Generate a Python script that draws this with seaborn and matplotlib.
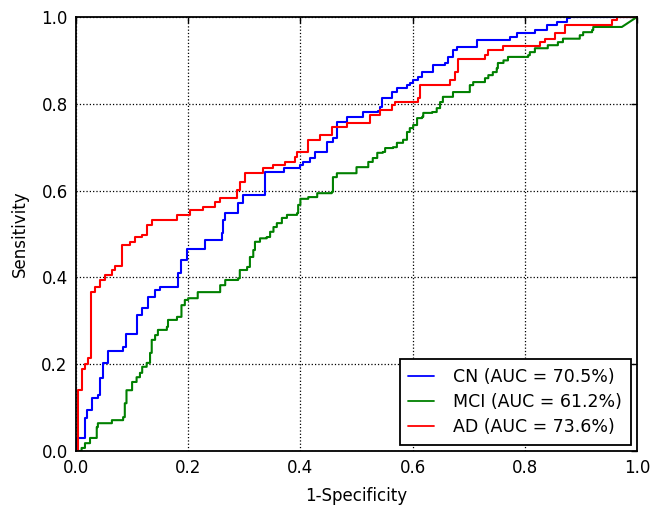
import pandas as pd
import seaborn as sns
from matplotlib import pyplot as plt

# ROC krivulje (1-specificity, sensitivity), ocitano sa slike
cn_fpr = [0, 0, 0.016, 0.02, 0.028, 0.039, 0.043, 0.048, 0.057, 0.084, 0.09, 0.108, 0.118, 0.128, 0.141, 0.15,
          0.176, 0.182, 0.188, 0.197, 0.215, 0.23, 0.26, 0.262, 0.266, 0.289, 0.298, 0.333, 0.337, 0.369, 0.37,
          0.4, 0.405, 0.417, 0.426, 0.444, 0.447, 0.458, 0.465, 0.483, 0.512, 0.538, 0.542, 0.545, 0.56, 0.563,
          0.572, 0.586, 0.59, 0.595, 0.601, 0.61, 0.617, 0.635, 0.636, 0.658, 0.663, 0.672, 0.679, 0.711, 0.715,
          0.77, 0.774, 0.786, 0.815, 0.818, 0.84, 0.857, 0.875, 0.88, 1]
cn_tpr = [0, 0.03, 0.076, 0.094, 0.122, 0.129, 0.168, 0.203, 0.23, 0.24, 0.27, 0.313, 0.33, 0.355, 0.37, 0.378,
          0.378, 0.41, 0.44, 0.465, 0.465, 0.486, 0.502, 0.532, 0.548, 0.571, 0.59, 0.59, 0.643, 0.643, 0.652,
          0.659, 0.666, 0.675, 0.689, 0.689, 0.712, 0.721, 0.758, 0.77, 0.781, 0.783, 0.793, 0.813, 0.813, 0.827,
          0.836, 0.836, 0.843, 0.848, 0.855, 0.862, 0.873, 0.873, 0.889, 0.894, 0.908, 0.924, 0.931, 0.931, 0.947,
          0.947, 0.954, 0.963, 0.963, 0.97, 0.982, 0.989, 0.998, 1.0, 1]

mci_fpr = [0, 0.01, 0.016, 0.025, 0.034, 0.037, 0.039, 0.061, 0.064, 0.082, 0.084, 0.087, 0.09, 0.1, 0.108, 0.114,
           0.118, 0.126, 0.132, 0.135, 0.141, 0.146, 0.159, 0.162, 0.164, 0.176, 0.18, 0.184, 0.188, 0.194, 0.2,
           0.215, 0.217, 0.253, 0.257, 0.266, 0.289, 0.292, 0.305, 0.31, 0.316, 0.319, 0.328, 0.34, 0.346, 0.352,
           0.358, 0.367, 0.376, 0.394, 0.396, 0.4, 0.414, 0.43, 0.456, 0.458, 0.465, 0.497, 0.5, 0.519, 0.521,
           0.529, 0.537, 0.547, 0.551, 0.565, 0.572, 0.583, 0.59, 0.595, 0.601, 0.608, 0.617, 0.619, 0.635, 0.643,
           0.649, 0.654, 0.672, 0.699, 0.702, 0.708, 0.726, 0.729, 0.735, 0.743, 0.75, 0.752, 0.762, 0.77, 0.806,
           0.809, 0.818, 0.84, 0.841, 0.859, 0.868, 0.898, 0.904, 0.92, 0.922, 0.973, 1]
mci_tpr = [0, 0.007, 0.018, 0.03, 0.03, 0.055, 0.064, 0.064, 0.071, 0.071, 0.078, 0.11, 0.14, 0.159, 0.17, 0.18,
           0.194, 0.203, 0.226, 0.256, 0.267, 0.279, 0.279, 0.286, 0.302, 0.302, 0.309, 0.309, 0.336, 0.348, 0.352,
           0.352, 0.366, 0.366, 0.382, 0.394, 0.398, 0.417, 0.424, 0.447, 0.463, 0.482, 0.49, 0.493, 0.505, 0.516,
           0.525, 0.537, 0.544, 0.548, 0.567, 0.581, 0.585, 0.594, 0.597, 0.631, 0.64, 0.64, 0.654, 0.654, 0.666,
           0.675, 0.687, 0.689, 0.698, 0.7, 0.71, 0.717, 0.735, 0.744, 0.751, 0.767, 0.77, 0.779, 0.781, 0.79,
           0.804, 0.816, 0.827, 0.827, 0.843, 0.85, 0.85, 0.859, 0.866, 0.873, 0.882, 0.894, 0.9, 0.908, 0.912,
           0.919, 0.928, 0.928, 0.935, 0.942, 0.95, 0.958, 0.965, 0.97, 0.977, 0.977, 1]

ad_fpr = [0, 0.004, 0.004, 0.007, 0.01, 0.016, 0.021, 0.025, 0.026, 0.034, 0.043, 0.052, 0.064, 0.07, 0.08, 0.082,
          0.096, 0.105, 0.118, 0.126, 0.135, 0.176, 0.18, 0.203, 0.226, 0.248, 0.257, 0.283, 0.287, 0.292, 0.301,
          0.331, 0.333, 0.352, 0.373, 0.39, 0.394, 0.412, 0.414, 0.435, 0.456, 0.456, 0.48, 0.483, 0.52, 0.524,
          0.538, 0.542, 0.563, 0.569, 0.601, 0.61, 0.613, 0.663, 0.667, 0.676, 0.681, 0.726, 0.729, 0.735, 0.759,
          0.762, 0.824, 0.827, 0.836, 0.85, 0.854, 0.868, 0.872, 0.952, 0.955, 0.964, 0.964, 1]
ad_tpr = [0, 0.0, 0.14, 0.14, 0.19, 0.2, 0.214, 0.214, 0.367, 0.378, 0.394, 0.405, 0.417, 0.426, 0.426, 0.474,
          0.482, 0.493, 0.498, 0.521, 0.532, 0.532, 0.544, 0.555, 0.562, 0.574, 0.583, 0.583, 0.601, 0.62, 0.64,
          0.64, 0.652, 0.659, 0.666, 0.677, 0.689, 0.689, 0.717, 0.728, 0.728, 0.747, 0.747, 0.756, 0.756, 0.774,
          0.774, 0.786, 0.797, 0.804, 0.804, 0.813, 0.843, 0.843, 0.855, 0.873, 0.903, 0.903, 0.912, 0.924, 0.924,
          0.933, 0.933, 0.942, 0.95, 0.95, 0.963, 0.963, 0.982, 0.982, 0.993, 0.993, 1.0, 1]

labels = ["CN (AUC = 70.5%)", "MCI (AUC = 61.2%)", "AD (AUC = 73.6%)"]
colors = ["blue", "green", "red"]
# broj zadnjih segmenata koji su kosi (bez stepenica)
diag_tail = [0, 1, 0]


def stairs(fpr, tpr, n_diag):
    # stepenice: desno pa gore, zadnjih n_diag segmenata ravno
    xs, ys = [fpr[0]], [tpr[0]]
    n = len(fpr)
    for i in range(1, n):
        if i < n - n_diag:
            xs.append(fpr[i])
            ys.append(tpr[i - 1])
        xs.append(fpr[i])
        ys.append(tpr[i])
    return pd.DataFrame({"fpr": xs, "tpr": ys})


sns.set_style("white")
plt.rcParams['font.family'] = ['DejaVu Sans']
plt.rcParams['text.color'] = 'black'
plt.rcParams['axes.labelcolor'] = 'black'
plt.rcParams['xtick.color'] = 'black'
plt.rcParams['ytick.color'] = 'black'

fig = plt.figure(figsize=(6.54, 5.07), dpi=100)
ax = fig.add_axes([0.1162, 0.1105, 0.8578, 0.856])

for fpr, tpr, lab, col, nd in zip([cn_fpr, mci_fpr, ad_fpr], [cn_tpr, mci_tpr, ad_tpr], labels, colors, diag_tail):
    df = stairs(fpr, tpr, nd)
    sns.lineplot(data=df, x="fpr", y="tpr", sort=False, estimator=None, color=col,
                 linewidth=1.5, label=lab, ax=ax)

ax.set_xlim(0, 1)
ax.set_ylim(0, 1)
ax.set_xticks([0, 0.2, 0.4, 0.6, 0.8, 1.0])
ax.set_yticks([0, 0.2, 0.4, 0.6, 0.8, 1.0])
ax.set_xticklabels(["0.0", "0.2", "0.4", "0.6", "0.8", "1.0"])
ax.set_yticklabels(["0.0", "0.2", "0.4", "0.6", "0.8", "1.0"])
ax.tick_params(direction="in", length=4, width=1, top=True, right=True, labelsize=12, colors="black", pad=6)
ax.grid(True, linestyle=":", color="black", linewidth=0.9)
for s in ax.spines.values():
    s.set_color("black")
    s.set_linewidth(1.3)
ax.set_xlabel("1-Specificity", fontsize=12, labelpad=7, color="black")
ax.set_ylabel("Sensitivity", fontsize=12, labelpad=9, color="black")

leg = ax.legend(loc="lower right", fontsize=12.5, fancybox=False, framealpha=1, edgecolor="black",
                borderpad=0.5, labelspacing=0.42, handlelength=1.5, handletextpad=1.1, borderaxespad=0.35)
leg.get_frame().set_linewidth(1.3)
for h in leg.get_lines():
    h.set_linewidth(1.3)
for t in leg.get_texts():
    t.set_color("black")

fig.savefig("out.png", dpi=100)
